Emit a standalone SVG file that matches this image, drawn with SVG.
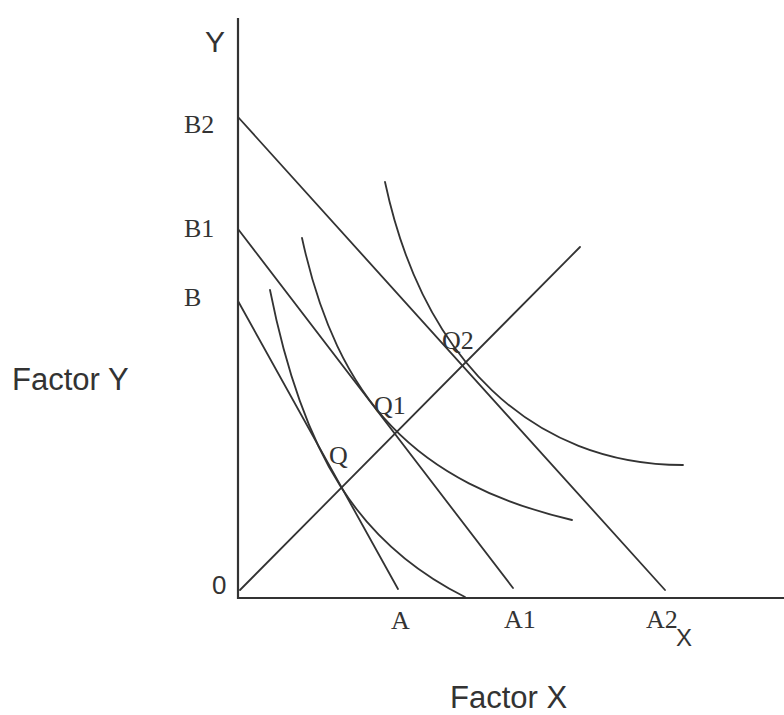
<svg xmlns="http://www.w3.org/2000/svg" width="784" height="715" viewBox="0 0 784 715">
<style>
.ln{fill:none;stroke:#333;stroke-width:1.8;stroke-linecap:round}
.ax{fill:none;stroke:#333;stroke-width:2.2}
.sf{font-family:"Liberation Serif","Times New Roman",serif;font-size:26px;fill:#333}
.ss{font-family:"Liberation Sans",Arial,sans-serif;fill:#333}
</style>
<rect width="784" height="715" fill="#fff"/>
<g id="connectors">
<path class="ax" d="M238,18 V598 H784"/>
<path id="budget-B" class="ln" d="M238,301 L398,589"/>
<path id="budget-B1" class="ln" d="M238,229 L513,588"/>
<path id="budget-B2" class="ln" d="M238,117 L665,590"/>
<path id="expansion-path" class="ln" d="M240,590 L580,247"/>
<path id="isoquant-Q" class="ln" d="M270,290 C302.7,454.7 358.6,543.9 465,597"/>
<path id="isoquant-Q1" class="ln" d="M302,238 C337.5,401.3 415.8,483.1 572,520"/>
<path id="isoquant-Q2" class="ln" d="M385,182 C423.1,360.3 533,465 683,465"/>
</g>
<g id="axis-labels">
<text class="ss" x="205" y="52" font-size="30">Y</text>
<text class="ss" x="676" y="646" font-size="24">X</text>
<text class="ss" x="212" y="594" font-size="26">0</text>
<text class="ss" x="12" y="390" font-size="31">Factor Y</text>
<text class="ss" x="450" y="708" font-size="31">Factor X</text>
</g>
<g id="node-B2"><text class="sf" x="184" y="133">B2</text></g>
<g id="node-B1"><text class="sf" x="184" y="237">B1</text></g>
<g id="node-B"><text class="sf" x="184" y="306">B</text></g>
<g id="node-A"><text class="sf" x="391" y="629">A</text></g>
<g id="node-A1"><text class="sf" x="504" y="628">A1</text></g>
<g id="node-A2"><text class="sf" x="646" y="628">A2</text></g>
<g id="node-Q"><text class="sf" x="329" y="464">Q</text></g>
<g id="node-Q1"><text class="sf" x="374" y="414">Q1</text></g>
<g id="node-Q2"><text class="sf" x="442" y="349">Q2</text></g>
</svg>
